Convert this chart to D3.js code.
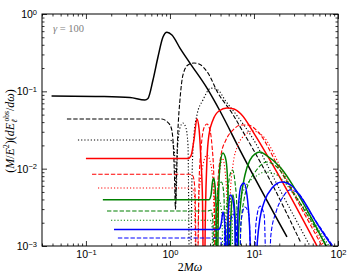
<!DOCTYPE html>
<html>
<head>
<meta charset="utf-8">
<script src="https://cdn.jsdelivr.net/npm/d3@7.9.0/dist/d3.min.js"></script>
<style>
  body { margin: 0; background: #fff; }
  svg { display: block; font-family: "Liberation Serif", "DejaVu Serif", serif; }
</style>
</head>
<body>
<svg id="chart" width="350" height="280"></svg>
<script>
// tick labels
const xTicks = [0.1, 1, 10, 100];
const yTicks = [0.001, 0.01, 0.1, 1];
const ZERO = 1e-4; // exact zeros of the flux, they fall below the frame

// [2M omega, (M/E^2) dE/domega]
const blackSolid = [[0.039,0.087],[0.147,0.0857],[0.334,0.0832],[0.504,0.0773],[0.547,0.0808],[0.628,0.14],[0.72,0.278],[0.826,0.504],[0.921,0.58],[1.056,0.535],[1.315,0.363],[1.73,0.232],[2.76,0.11],[3.94,0.0557],[6.81,0.0174],[24.7,0.00131]];
const blackDashed = [[0.0594,0.0439],[0.803,0.0439],[0.921,0.0405],[1.028,0.0346],[1.086,0.0235],[1.131,0.00828],[1.163,0.003],[1.195,0.00828],[1.245,0.0316],[1.315,0.0773],[1.428,0.163],[1.638,0.219],[1.931,0.232],[2.275,0.222],[2.83,0.173],[3.73,0.0951],[5.47,0.0525],[7.2,0.0316],[15.5,0.00714],[36.3,0.00109]];
const blackDotted = [[0.0803,0.0235],[1.0,0.0235],[1.086,0.0215],[1.147,0.0129],[1.179,0.004],[1.228,0.0174],[1.315,0.0336],[1.428,0.0389],[1.55,0.0336],[1.638,0.0202],[1.73,ZERO],[1.827,0.00714],[1.931,0.0272],[2.096,0.0494],[2.47,0.0773],[3.08,0.11],[3.73,0.104],[4.51,0.0773],[6.45,0.0466],[9.47,0.0256],[20.4,0.0053],[46.4,0.001]];
const redSolid = [[0.1,0.0135],[1.638,0.0135],[1.778,0.0146],[1.931,0.0235],[2.096,0.0439],[2.214,0.0336],[2.338,0.0129],[2.44,0.00393],[2.538,ZERO],[2.646,0.00292],[2.755,0.0129],[2.91,0.0272],[3.25,0.0426],[3.83,0.0557],[4.77,0.0609],[5.78,0.0591],[7.0,0.0509],[10.3,0.0272],[16.8,0.0111],[56.2,0.001]];
const redDashed = [[0.118,0.00845],[1.73,0.00845],[1.878,0.00804],[1.985,0.0053],[2.096,ZERO],[2.214,0.00615],[2.338,0.0174],[2.538,0.0336],[2.755,0.0378],[2.99,0.0316],[3.16,0.0202],[3.34,0.00714],[3.53,ZERO],[3.73,0.00714],[4.05,0.015],[4.64,0.0235],[5.62,0.0316],[7.0,0.0367],[8.48,0.0367],[11.2,0.0298],[20.4,0.0096],[64.5,0.001]];
const redDotted = [[0.139,0.00562],[1.827,0.00562],[1.957,0.00456],[2.068,ZERO],[2.214,0.00456],[2.47,0.0111],[2.755,0.015],[3.08,0.0111],[3.3,0.00456],[3.48,ZERO],[3.73,0.0053],[3.94,0.0096],[4.22,0.0137],[4.51,0.0096],[4.77,0.00393],[4.97,ZERO],[5.18,0.00393],[5.62,0.0111],[6.45,0.0202],[7.81,0.0272],[9.73,0.0307],[12.4,0.0272],[23.4,0.00804],[68.1,0.001]];
const greenSolid = [[0.159,0.00397],[2.91,0.00397],[3.08,0.00456],[3.21,0.0068],[3.3,0.0075],[3.43,0.00615],[3.53,0.00339],[3.63,ZERO],[3.78,0.00393],[3.94,0.0111],[4.27,0.0159],[4.64,0.0129],[4.9,0.0053],[5.11,ZERO],[5.32,0.00252],[5.62,0.00456],[5.94,0.00252],[6.19,ZERO],[6.54,0.00139],[7.0,0.00393],[7.81,0.00828],[8.96,0.0129],[10.3,0.0155],[11.8,0.0164],[13.9,0.015],[20.4,0.0105],[42.8,0.00292],[71.9,0.001]];
const greenDashed = [[0.178,0.00283],[2.83,0.00283],[3.08,0.00292],[3.25,0.00204],[3.39,ZERO],[3.58,0.00292],[3.83,0.00615],[4.1,0.00672],[4.39,0.00456],[4.58,ZERO],[4.84,0.00393],[5.18,0.00828],[5.55,0.0096],[5.94,0.00672],[6.28,0.00292],[6.54,ZERO],[7.0,0.00187],[7.6,0.00393],[8.48,0.00615],[10.3,0.00905],[14.3,0.0122],[19.3,0.0102],[30.8,0.00456],[73.9,0.001]];
const greenDotted = [[0.199,0.00215],[2.99,0.00215],[3.16,0.00198],[3.3,ZERO],[3.53,0.00252],[3.83,0.00393],[4.16,0.00252],[4.33,ZERO],[4.64,0.00275],[5.04,0.00456],[5.47,0.00275],[5.7,ZERO],[6.11,0.00217],[6.81,0.00393],[8.03,0.00597],[10.3,0.0078],[13.5,0.00905],[17.8,0.00853],[33.4,0.00393],[78.1,0.001]];
const blueSolid = [[0.216,0.00163],[3.73,0.00163],[3.94,0.00171],[4.1,0.00204],[4.27,0.00275],[4.46,0.00217],[4.58,0.00139],[4.71,ZERO],[4.9,0.00217],[5.25,0.00456],[5.62,0.00393],[5.94,0.00187],[6.11,ZERO],[6.45,0.00252],[7.0,0.00597],[7.6,0.00653],[8.26,0.00456],[8.84,0.00187],[9.73,ZERO],[11.0,0.00119],[11.8,0.0023],[13.5,0.00393],[16.4,0.00562],[21.5,0.00672],[28.3,0.00597],[38.3,0.00393],[57.8,0.00187],[84.8,0.001]];
const blueDashed = [[0.24,0.00127],[4.05,0.00127],[4.22,ZERO],[4.51,0.00161],[4.84,ZERO],[5.18,0.00187],[5.62,0.00259],[6.11,0.00204],[6.54,ZERO],[7.0,0.00204],[7.81,0.00319],[8.72,0.00252],[9.6,ZERO],[10.6,0.00204],[11.8,0.00329],[13.2,0.00252],[14.5,ZERO],[15.9,0.00139],[18.3,0.00275],[22.1,0.0043],[26.8,0.0053],[33.4,0.00484],[46.4,0.00275],[87.1,0.001]];

const series = [
  { data: blackSolid,  color: '#000000', style: 'solid' },
  { data: blackDashed, color: '#000000', style: 'dashed' },
  { data: blackDotted, color: '#000000', style: 'dotted' },
  { data: redSolid,    color: '#ff0000', style: 'solid' },
  { data: redDashed,   color: '#ff0000', style: 'dashed' },
  { data: redDotted,   color: '#ff0000', style: 'dotted' },
  { data: greenSolid,  color: '#008000', style: 'solid' },
  { data: greenDashed, color: '#008000', style: 'dashed' },
  { data: greenDotted, color: '#008000', style: 'dotted' },
  { data: blueSolid,   color: '#0000ff', style: 'solid' },
  { data: blueDashed,  color: '#0000ff', style: 'dashed' },
];

const W = 350, H = 280;
const margin = { top: 14, right: 12, bottom: 34, left: 42 };

const svg = d3.select('#chart');

const x = d3.scaleLog().domain([0.03, 100]).range([margin.left, W - margin.right]);
const y = d3.scaleLog().domain([0.001, 1]).range([H - margin.bottom, margin.top]);

svg.append('clipPath').attr('id', 'plot-clip')
  .append('rect')
  .attr('x', margin.left).attr('y', margin.top)
  .attr('width', W - margin.left - margin.right)
  .attr('height', H - margin.top - margin.bottom);

let line = d3.line()
  .x(d => x(d[0]))
  .y(d => y(d[1]))
  .curve(d3.curveMonotoneX);

const dashes = { solid: null, dashed: '4.4,1.9', dotted: '1.2,2' };
const widths = { solid: 1.5, dashed: 1.1, dotted: 1.1 };

svg.append('g').attr('clip-path', 'url(#plot-clip)')
  .selectAll('path')
  .data(series)
  .join('path')
  .attr('d', d => line(d.data))
  .attr('fill', 'none')
  .attr('stroke', d => d.color)
  .attr('stroke-width', d => widths[d.style])
  .attr('stroke-dasharray', d => dashes[d.style]);

// axes, ticks on all four sides pointing in
const isMajor = d => Math.abs(Math.log10(d) - Math.round(Math.log10(d))) < 1e-6;
const xMinor = x.ticks().filter(d => !isMajor(d));
const yMinor = y.ticks().filter(d => !isMajor(d));

function supLabel(sel) {
  sel.each(function(d) {
    const e = Math.round(Math.log10(d));
    const t = d3.select(this).text('10');
    t.append('tspan')
      .attr('dy', '-0.45em')
      .attr('font-size', '7.5px')
      .text(e < 0 ? '\u2212' + (-e) : e);
  });
}

function drawAxis(axis, tr, major, minor, labels) {
  const g1 = svg.append('g').attr('transform', tr)
    .call(axis.tickValues(minor).tickSize(-2.5).tickSizeOuter(0).tickFormat(''));
  const g2 = svg.append('g').attr('transform', tr)
    .call(axis.tickValues(major).tickSize(-5).tickSizeOuter(0).tickPadding(labels ? 5 : 0).tickFormat(d => d));
  [g1, g2].forEach(g => {
    g.select('.domain').remove();
    g.selectAll('line').attr('stroke', '#000').attr('stroke-width', 0.8);
  });
  g2.selectAll('text').attr('font-family', null).attr('font-size', '10.5px').attr('fill', '#000');
  if (labels) g2.selectAll('text').call(supLabel);
  else g2.selectAll('text').remove();
  g1.selectAll('text').remove();
}

drawAxis(d3.axisBottom(x), `translate(0,${H - margin.bottom})`, xTicks, xMinor, true);
drawAxis(d3.axisTop(x), `translate(0,${margin.top})`, xTicks, xMinor, false);
drawAxis(d3.axisLeft(y), `translate(${margin.left},0)`, yTicks, yMinor, true);
drawAxis(d3.axisRight(y), `translate(${W - margin.right},0)`, yTicks, yMinor, false);

svg.append('rect')
  .attr('x', margin.left).attr('y', margin.top)
  .attr('width', W - margin.left - margin.right)
  .attr('height', H - margin.top - margin.bottom)
  .attr('fill', 'none').attr('stroke', '#000').attr('stroke-width', 1);

// x label
const xl = svg.append('text')
  .attr('x', (margin.left + W - margin.right) / 2)
  .attr('y', 271)
  .attr('text-anchor', 'middle')
  .attr('font-size', '12px');
xl.append('tspan').text('2');
xl.append('tspan').attr('font-style', 'italic').text('M\u03c9');

// y label
const yl = svg.append('text')
  .attr('transform', 'translate(14,131) rotate(-90)')
  .attr('text-anchor', 'middle')
  .attr('font-size', '12px');
yl.append('tspan').text('(');
yl.append('tspan').attr('font-style', 'italic').text('M');
yl.append('tspan').text('/');
yl.append('tspan').attr('font-style', 'italic').text('E');
yl.append('tspan').attr('font-size', '8px').attr('dy', -5).text('2');
yl.append('tspan').attr('dy', 5).text(')(');
yl.append('tspan').attr('font-style', 'italic').text('dE');
yl.append('tspan').attr('font-style', 'italic').attr('font-size', '8px').attr('dy', 3).text('\u2113');
yl.append('tspan').attr('font-size', '7.5px').attr('dx', -2).attr('dy', -8).text('obs');
yl.append('tspan').attr('dy', 5).text('/');
yl.append('tspan').attr('font-style', 'italic').text('d\u03c9');
yl.append('tspan').text(')');

// gamma annotation
const gl = svg.append('text')
  .attr('x', 53).attr('y', 32)
  .attr('font-size', '10.5px')
  .attr('fill', '#808080');
gl.append('tspan').attr('font-style', 'italic').text('\u03b3');
gl.append('tspan').text(' = 100');
</script>
</body>
</html>
